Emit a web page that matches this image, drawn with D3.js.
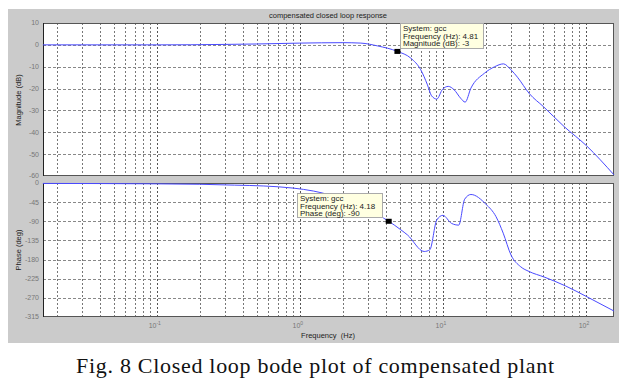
<!DOCTYPE html>
<html>
<head>
<meta charset="utf-8">
<script src="https://cdn.jsdelivr.net/npm/d3@7"></script>
<style>
  html, body { margin: 0; padding: 0; background: #fff; }
  svg { display: block; }
</style>
</head>
<body>
<div id="chart"></div>
<script>
// magnitude response (Hz, dB)
var magFreq = [0.016, 0.1, 0.3, 0.5, 1, 2, 2.67, 3.5, 4.81, 5.97, 7.0, 7.8, 8.33, 9.06, 9.95, 10.9, 12, 13.3, 14.3, 15.7, 19.5, 23, 26.5, 29.9, 33.2, 40.3, 50.3, 70.4, 101, 157];
var magDb   = [0, 0, 0.2, 0.4, 0.8, 1.0, 0.8, -0.5, -3, -6.1, -11.4, -18.3, -23.3, -24.8, -20.3, -19, -20.6, -24.4, -26.2, -19.8, -13, -10, -8.7, -11.4, -14.8, -22.4, -28.2, -37.4, -46.2, -59.5];

// phase response (Hz, deg)
var phFreq = [0.016, 0.1, 0.2, 0.35, 0.56, 0.9, 1.25, 2.0, 3.0, 4.18, 5.08, 5.65, 7.4, 8.1, 9.06, 10.0, 11.5, 12.9, 14.2, 15.7, 20, 23.5, 26.4, 29.9, 35, 40, 51, 72, 101, 157];
var phDeg  = [-1, -2, -3, -5, -7, -12, -19, -38, -63, -90, -110, -122, -161, -157, -87, -76, -95, -99, -38, -27, -50, -79, -118, -169, -197, -208, -221, -242, -267, -301];

var magTicks = [10, 0, -10, -20, -30, -40, -50, -60];
var phTicks  = [0, -45, -90, -135, -180, -225, -270, -315];
var decades  = [0.1, 1, 10, 100];
var decadeExp = ['-1', '0', '1', '2'];

var magTip = ['System: gcc', 'Frequency (Hz): 4.81', 'Magnitude (dB): -3'];
var phTip  = ['System: gcc', 'Frequency (Hz): 4.18', 'Phase (deg): -90'];

var W = 632, H = 379;
var svg = d3.select('#chart').append('svg').attr('width', W).attr('height', H);

// gray figure panel
svg.append('rect').attr('x', 8).attr('y', 9).attr('width', 611).attr('height', 334).attr('fill', '#cbcbcb');

var left = 43, right = 614;
var x = d3.scaleLog().domain([0.01603, 157]).range([left, right]);

// grid values 1..9 per decade
var gridX = [];
[0.01, 0.1, 1, 10, 100].forEach(function(d){
    for (var k = 1; k <= 9; k++) {
        var v = d * k;
        if (v > 0.01603 && v < 157) gridX.push(v);
    }
});

function panel(top, bottom, ticks, yDom, showX) {
    var y = d3.scaleLinear().domain(yDom).range([bottom, top]);
    var g = svg.append('g');
    g.append('rect').attr('x', left).attr('y', top).attr('width', right - left).attr('height', bottom - top).attr('fill', '#fff');

    g.append('g').selectAll('line').data(gridX).join('line')
        .attr('x1', function(d){ return Math.round(x(d)) + 0.5; })
        .attr('x2', function(d){ return Math.round(x(d)) + 0.5; })
        .attr('y1', top).attr('y2', bottom)
        .attr('stroke', function(d){ return decades.indexOf(d) >= 0 ? '#555' : '#777'; })
        .attr('stroke-width', 1).attr('stroke-dasharray', '2,2');

    g.append('g').selectAll('line').data(ticks.slice(1, -1)).join('line')
        .attr('x1', left).attr('x2', right)
        .attr('y1', function(d){ return Math.round(y(d)) + 0.5; })
        .attr('y2', function(d){ return Math.round(y(d)) + 0.5; })
        .attr('stroke', '#888').attr('stroke-width', 1).attr('stroke-dasharray', '3,2');

    g.append('rect').attr('x', left + 0.5).attr('y', top + 0.5).attr('width', right - left - 1).attr('height', bottom - top - 1)
        .attr('fill', 'none').attr('stroke', '#555').attr('stroke-width', 1);
    g.append('line').attr('x1', left + 0.5).attr('x2', left + 0.5).attr('y1', top).attr('y2', bottom)
        .attr('stroke', '#222');

    g.append('g').selectAll('text').data(ticks).join('text')
        .attr('x', left - 4).attr('y', function(d){ return y(d); }).attr('dy', '0.35em')
        .attr('text-anchor', 'end').attr('font-family', 'Arial, "Liberation Sans", sans-serif')
        .attr('font-size', 7).attr('fill', '#777')
        .text(function(d){ return d; });

    if (showX) {
        var lab = g.append('g').selectAll('text').data(decades).join('text')
            .attr('x', function(d){ return x(d) - 2; }).attr('y', bottom + 11)
            .attr('text-anchor', 'middle').attr('font-family', 'Arial, "Liberation Sans", sans-serif')
            .attr('font-size', 7).attr('fill', '#777')
            .text('10');
        lab.append('tspan').attr('dy', -3).attr('font-size', 5)
            .text(function(d, i){ return decadeExp[i]; });
    }
    return y;
}

var yMag = panel(23, 176, magTicks, [-60, 10], false);
var yPh  = panel(183, 317, phTicks, [-315, 0], true);

var blue = '#4a4aff';
var magLine = d3.line().x(function(d){ return x(d[0]); }).y(function(d){ return yMag(d[1]); }).curve(d3.curveMonotoneX);
var phLine  = d3.line().x(function(d){ return x(d[0]); }).y(function(d){ return yPh(d[1]); }).curve(d3.curveMonotoneX);

svg.append('path').datum(d3.zip(magFreq, magDb)).attr('d', magLine)
    .attr('fill', 'none').attr('stroke', blue).attr('stroke-width', 1);
svg.append('path').datum(d3.zip(phFreq, phDeg)).attr('d', phLine)
    .attr('fill', 'none').attr('stroke', blue).attr('stroke-width', 1);

// data tips
function dataTip(fx, fy, bx, by, bw, bh, lines) {
    svg.append('rect').attr('x', bx + 0.5).attr('y', by + 0.5).attr('width', bw).attr('height', bh)
        .attr('fill', '#ffffe1').attr('stroke', '#aaa').attr('stroke-width', 1);
    svg.append('g').selectAll('text').data(lines).join('text')
        .attr('x', bx + 3).attr('y', function(d, i){ return by + 8 + i * 7.5; })
        .attr('font-family', 'Arial, "Liberation Sans", sans-serif').attr('font-size', 8).attr('fill', '#222')
        .text(function(d){ return d; });
    svg.append('rect').attr('x', fx - 3).attr('y', fy - 2.5).attr('width', 6).attr('height', 5).attr('fill', '#000');
}
dataTip(x(4.81), yMag(-3), 400, 23, 83, 25, magTip);
dataTip(x(4.18), yPh(-90), 297, 193, 85, 24, phTip);

// titles and labels
svg.append('text').attr('x', 328).attr('y', 18).attr('text-anchor', 'middle')
    .attr('font-family', 'Arial, "Liberation Sans", sans-serif').attr('font-size', 7.5).attr('fill', '#222')
    .text('compensated closed loop response');
svg.append('text').attr('transform', 'translate(21,100) rotate(-90)').attr('text-anchor', 'middle')
    .attr('font-family', 'Arial, "Liberation Sans", sans-serif').attr('font-size', 7.5).attr('fill', '#222')
    .text('Magnitude (dB)');
svg.append('text').attr('transform', 'translate(21,250) rotate(-90)').attr('text-anchor', 'middle')
    .attr('font-family', 'Arial, "Liberation Sans", sans-serif').attr('font-size', 7.5).attr('fill', '#222')
    .text('Phase (deg)');
svg.append('text').attr('x', 328).attr('y', 338).attr('text-anchor', 'middle')
    .attr('font-family', 'Arial, "Liberation Sans", sans-serif').attr('font-size', 7.5).attr('fill', '#222')
    .attr('xml:space', 'preserve')
    .text('Frequency  (Hz)');

svg.append('text').attr('x', 315).attr('y', 373).attr('text-anchor', 'middle')
    .attr('font-family', '"Liberation Serif", "Times New Roman", serif').attr('font-size', 22).attr('fill', '#111')
    .attr('textLength', 478).attr('lengthAdjust', 'spacing')
    .text('Fig. 8 Closed loop bode plot of compensated plant');
</script>
</body>
</html>
